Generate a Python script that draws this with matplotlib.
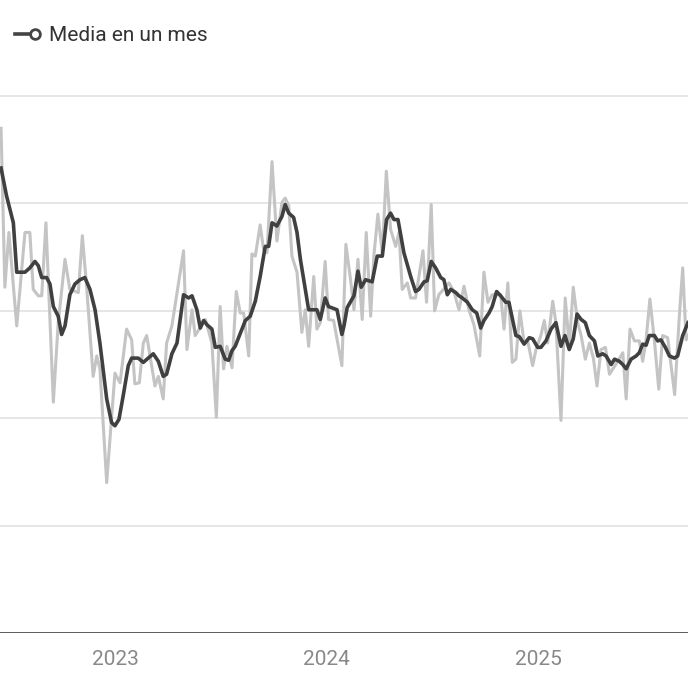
import matplotlib
matplotlib.use("Agg")
import matplotlib.pyplot as plt
from matplotlib.lines import Line2D

plt.rcParams['font.family'] = ['Roboto', 'DejaVu Sans']

# weekly values (gray) as fractional years
weekly_x = [2022.462, 2022.480, 2022.499, 2022.536, 2022.575, 2022.598, 2022.614, 2022.638, 2022.654, 2022.674,
            2022.709, 2022.732, 2022.764, 2022.787, 2022.827, 2022.846, 2022.866, 2022.897, 2022.914, 2022.929,
            2022.961, 2023.000, 2023.024, 2023.055, 2023.079, 2023.094, 2023.115, 2023.134, 2023.150, 2023.189,
            2023.205, 2023.228, 2023.244, 2023.269,
            2023.324, 2023.340, 2023.364, 2023.379, 2023.427, 2023.458, 2023.479, 2023.497, 2023.513, 2023.529,
            2023.553, 2023.573, 2023.592, 2023.608, 2023.632, 2023.647, 2023.663, 2023.686, 2023.702, 2023.718,
            2023.742, 2023.765, 2023.789, 2023.804, 2023.821, 2023.836, 2023.860, 2023.883, 2023.899, 2023.915,
            2023.939, 2023.954, 2023.970, 2023.993, 2024.009, 2024.033, 2024.072,
            2024.091, 2024.113, 2024.129, 2024.148, 2024.168, 2024.187, 2024.208, 2024.223, 2024.242, 2024.263,
            2024.282, 2024.302, 2024.326, 2024.342, 2024.357, 2024.381, 2024.397, 2024.420, 2024.455, 2024.472,
            2024.494, 2024.510, 2024.530, 2024.578, 2024.601, 2024.625, 2024.649, 2024.672, 2024.696, 2024.723,
            2024.743, 2024.762, 2024.782, 2024.822, 2024.838, 2024.856, 2024.877, 2024.894,
            2024.913, 2024.933, 2024.949, 2024.973, 2024.989, 2025.012, 2025.028, 2025.044, 2025.068, 2025.083,
            2025.107, 2025.127, 2025.146, 2025.165, 2025.186, 2025.202, 2025.222, 2025.241, 2025.260, 2025.277,
            2025.296, 2025.317, 2025.336, 2025.375, 2025.399, 2025.415, 2025.433, 2025.454, 2025.477, 2025.493,
            2025.509, 2025.527, 2025.548, 2025.569, 2025.587, 2025.611, 2025.644, 2025.666, 2025.682, 2025.698,
            2025.707]
weekly_y = [4.70, 3.22, 3.73, 2.86, 3.73, 3.73, 3.20, 3.14, 3.14, 3.82,
            2.15, 2.89, 3.48, 3.20, 3.17, 3.70, 3.23, 2.39, 2.58, 2.46,
            1.40, 2.42, 2.33, 2.83, 2.73, 2.32, 2.33, 2.70, 2.77, 2.30,
            2.39, 2.18, 2.70, 2.86,
            3.56, 2.64, 3.01, 2.77, 2.92, 2.70, 2.01, 3.04, 2.46, 2.67,
            2.47, 3.18, 2.98, 2.98, 2.58, 3.53, 3.51, 3.80, 3.57, 3.54,
            4.39, 3.65, 4.01, 4.05, 3.98, 3.51, 3.36, 2.80, 3.01, 2.67,
            3.32, 2.83, 2.89, 3.46, 2.92, 2.91, 2.49,
            3.62, 3.29, 3.01, 3.48, 2.92, 3.73, 2.95, 3.51, 3.90, 3.54,
            4.30, 3.76, 3.60, 3.73, 3.20, 3.26, 3.12, 3.12, 3.56, 3.08,
            3.99, 3.00, 3.15, 3.26, 3.18, 3.01, 3.23, 3.01, 2.87, 2.58,
            3.36, 3.08, 3.15, 3.15, 2.83, 3.26, 2.52, 2.55,
            3.00, 2.70, 2.73, 2.49, 2.64, 2.77, 2.91, 2.70, 3.09, 2.89,
            1.98, 3.12, 2.67, 3.22, 2.89, 2.77, 2.55, 2.70, 2.56, 2.30,
            2.64, 2.66, 2.41, 2.53, 2.61, 2.18, 2.83, 2.72, 2.72, 2.53,
            2.73, 3.11, 2.73, 2.27, 2.77, 2.75, 2.22, 2.95, 3.40, 2.73,
            2.77]

# one-month average (dark)
monthly_x = [2022.462, 2022.488, 2022.520, 2022.536, 2022.575, 2022.598, 2022.622, 2022.638, 2022.654, 2022.677,
             2022.693, 2022.709, 2022.732, 2022.748, 2022.764, 2022.787, 2022.811, 2022.835, 2022.858, 2022.882,
             2022.906, 2022.929, 2022.961, 2022.984, 2023.000, 2023.019, 2023.039, 2023.063, 2023.079, 2023.110,
             2023.134, 2023.157, 2023.181, 2023.205, 2023.228, 2023.244, 2023.269,
             2023.293, 2023.324, 2023.348, 2023.364, 2023.387, 2023.403, 2023.419, 2023.435, 2023.458, 2023.474,
             2023.497, 2023.521, 2023.537, 2023.553, 2023.568, 2023.600, 2023.616, 2023.639, 2023.663, 2023.686,
             2023.710, 2023.726, 2023.742, 2023.765, 2023.789, 2023.804, 2023.821, 2023.844, 2023.860, 2023.876,
             2023.899, 2023.915, 2023.954, 2023.970, 2023.993, 2024.009, 2024.049, 2024.072,
             2024.082, 2024.097, 2024.129, 2024.148, 2024.163, 2024.184, 2024.215, 2024.239, 2024.263, 2024.283,
             2024.302, 2024.318, 2024.337, 2024.365, 2024.397, 2024.420, 2024.436, 2024.460, 2024.475, 2024.494,
             2024.515, 2024.539, 2024.554, 2024.570, 2024.586, 2024.610, 2024.625, 2024.641, 2024.665, 2024.688,
             2024.709, 2024.728, 2024.743, 2024.767, 2024.782, 2024.803, 2024.822, 2024.846, 2024.861, 2024.894,
             2024.910, 2024.933, 2024.957, 2024.973, 2024.997, 2025.012, 2025.036, 2025.060, 2025.083, 2025.107,
             2025.126, 2025.146, 2025.165, 2025.183, 2025.202, 2025.222, 2025.241, 2025.265, 2025.281, 2025.304,
             2025.320, 2025.344, 2025.360, 2025.383, 2025.399, 2025.415, 2025.438, 2025.462, 2025.477, 2025.493,
             2025.509, 2025.524, 2025.548, 2025.564, 2025.579, 2025.600, 2025.619, 2025.643, 2025.658, 2025.682,
             2025.707]
monthly_y = [4.33, 4.07, 3.82, 3.36, 3.36, 3.40, 3.46, 3.42, 3.31, 3.31,
             3.25, 3.04, 2.95, 2.78, 2.86, 3.15, 3.25, 3.29, 3.31, 3.20,
             3.01, 2.70, 2.18, 1.96, 1.93, 1.99, 2.21, 2.49, 2.56, 2.56,
             2.52, 2.56, 2.60, 2.53, 2.39, 2.41, 2.60,
             2.70, 3.15, 3.12, 3.14, 3.01, 2.84, 2.91, 2.87, 2.83, 2.66,
             2.67, 2.55, 2.54, 2.63, 2.67, 2.83, 2.91, 2.95, 3.09, 3.32,
             3.60, 3.60, 3.82, 3.79, 3.88, 3.99, 3.91, 3.87, 3.73, 3.48,
             3.20, 3.01, 3.01, 2.92, 3.12, 3.04, 3.01, 2.78,
             2.86, 3.03, 3.14, 3.37, 3.22, 3.29, 3.27, 3.51, 3.51, 3.85,
             3.91, 3.85, 3.85, 3.54, 3.32, 3.18, 3.20, 3.27, 3.28, 3.46,
             3.40, 3.31, 3.29, 3.15, 3.20, 3.17, 3.14, 3.12, 3.08, 3.01,
             2.98, 2.84, 2.91, 2.98, 3.04, 3.18, 3.14, 3.08, 3.08, 2.77,
             2.76, 2.69, 2.75, 2.74, 2.66, 2.66, 2.72, 2.83, 2.89, 2.67,
             2.77, 2.64, 2.74, 2.97, 2.92, 2.89, 2.77, 2.72, 2.58, 2.60,
             2.58, 2.50, 2.55, 2.53, 2.50, 2.46, 2.55, 2.58, 2.61, 2.69,
             2.68, 2.77, 2.77, 2.72, 2.73, 2.66, 2.58, 2.56, 2.58, 2.77,
             2.89]

years = [2023, 2024, 2025]
year_labels = ['2023', '2024', '2025']
legend_label = 'Media en un mes'

fig = plt.figure(figsize=(6.88, 6.88), dpi=100)
ax = fig.add_axes([0, 0.0799, 1, 0.8273])

ax.plot(weekly_x, weekly_y, color='#c4c4c4', lw=2.2, zorder=2)
ax.plot(monthly_x, monthly_y, color='#404040', lw=2.6, zorder=3)
ax.axhline(0, color='#2a2a2a', lw=1.8, zorder=4)

ax.set_xlim(2022.457, 2025.707)
ax.set_ylim(0, 5.3)
ax.set_yticks([1, 2, 3, 4, 5])
ax.yaxis.grid(True, color='#e2e2e2', lw=1.2)
ax.set_axisbelow(True)
ax.tick_params(axis='y', length=0, labelleft=False)
ax.set_xticks(years)
ax.set_xticklabels(year_labels)
ax.tick_params(axis='x', length=0, pad=12, labelsize=15, labelcolor='#888888')
for s in ax.spines.values():
    s.set_visible(False)

# legend at the top left
ly = 1 - 34 / 688
fig.add_artist(Line2D([15 / 688, 33 / 688], [ly, ly], color='#444444', lw=2.6))
fig.add_artist(Line2D([35 / 688], [ly], marker='o', markersize=7, markerfacecolor='white',
                      markeredgecolor='#444444', markeredgewidth=2, linestyle='none'))
fig.text(49 / 688, ly - 1.5 / 688, legend_label, fontsize=15, color='#333333', va='center', ha='left')

fig.savefig('out.png', dpi=100)
